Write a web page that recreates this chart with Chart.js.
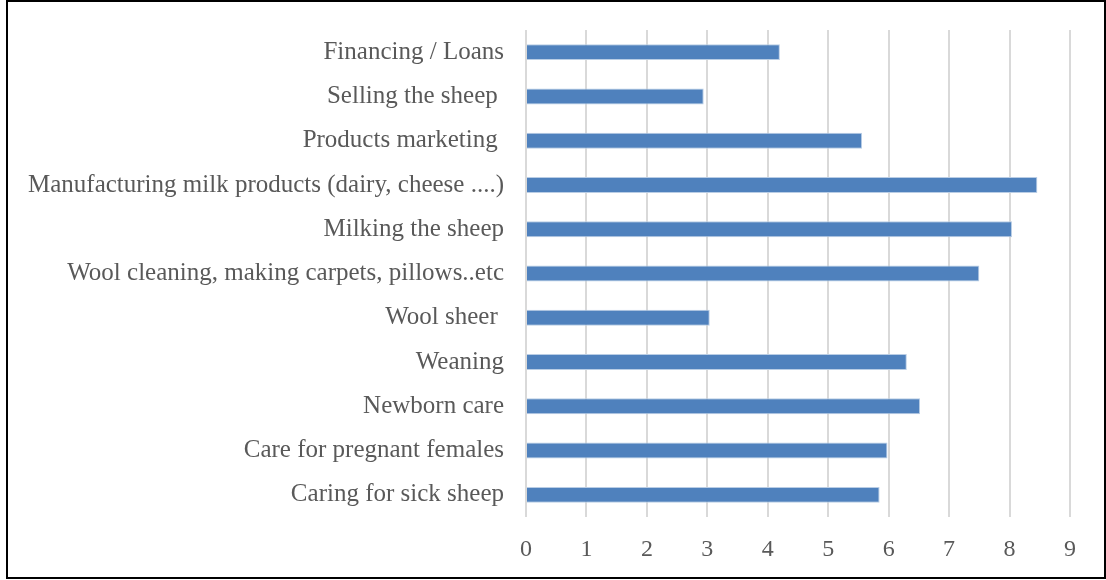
<!DOCTYPE html>
<html>
<head>
<meta charset="utf-8">
<script src="https://cdn.jsdelivr.net/npm/chart.js@4.4.0/dist/chart.umd.min.js"></script>
<style>
  html, body { margin: 0; padding: 0; background: #fff; }
  #wrap { position: relative; width: 1106px; height: 580px; }
  #frame {
    position: absolute; left: 6px; top: 0; width: 1096px; height: 575px;
    border: 2px solid #000; pointer-events: none;
  }
  canvas { position: absolute; left: 0; top: 0; }
</style>
</head>
<body>
<div id="wrap">
  <canvas id="barChart" width="1106" height="580"></canvas>
  <div id="frame"></div>
</div>
<script>
const categories = [
  "Financing / Loans",
  "Selling the sheep ",
  "Products marketing ",
  "Manufacturing milk products (dairy, cheese ....)",
  "Milking the sheep",
  "Wool cleaning, making carpets, pillows..etc",
  "Wool sheer ",
  "Weaning",
  "Newborn care",
  "Care for pregnant females",
  "Caring for sick sheep"
];
const values = [4.2, 2.94, 5.56, 8.46, 8.04, 7.5, 3.04, 6.3, 6.52, 5.98, 5.85];
const xTicks = [0, 1, 2, 3, 4, 5, 6, 7, 8, 9];

const labelFont = { family: "'Liberation Serif', serif", size: 25 };
const tickFont = { family: "'Liberation Serif', serif", size: 24 };

const ctx = document.getElementById("barChart").getContext("2d");
new Chart(ctx, {
  type: "bar",
  data: {
    labels: categories,
    datasets: [{
      data: values,
      backgroundColor: "#4f81bd",
      borderColor: "#b9cde5",
      borderWidth: 1,
      borderSkipped: "start",
      barPercentage: 0.72,
      categoryPercentage: 0.5
    }]
  },
  options: {
    indexAxis: "y",
    responsive: false,
    animation: false,
    layout: { padding: { top: 30, right: 36, bottom: 7, left: 0 } },
    scales: {
      x: {
        min: xTicks[0],
        max: xTicks[xTicks.length - 1],
        afterBuildTicks: scale => { scale.ticks = xTicks.map(v => ({ value: v })); },
        grid: { color: "#d9d9d9", lineWidth: 2, drawTicks: false },
        border: { display: false },
        ticks: { color: "#595959", font: tickFont, padding: 18 },
        afterFit: scale => { scale.height = 56; }
      },
      y: {
        grid: { display: false, drawTicks: false },
        border: { display: false },
        ticks: { color: "#595959", font: labelFont, padding: 22, autoSkip: false },
        afterFit: scale => {
          scale.width = 526;
          scale.paddingTop = 0;
          scale.paddingBottom = 0;
        }
      }
    },
    plugins: {
      legend: { display: false },
      tooltip: { enabled: false }
    }
  }
});
</script>
</body>
</html>
